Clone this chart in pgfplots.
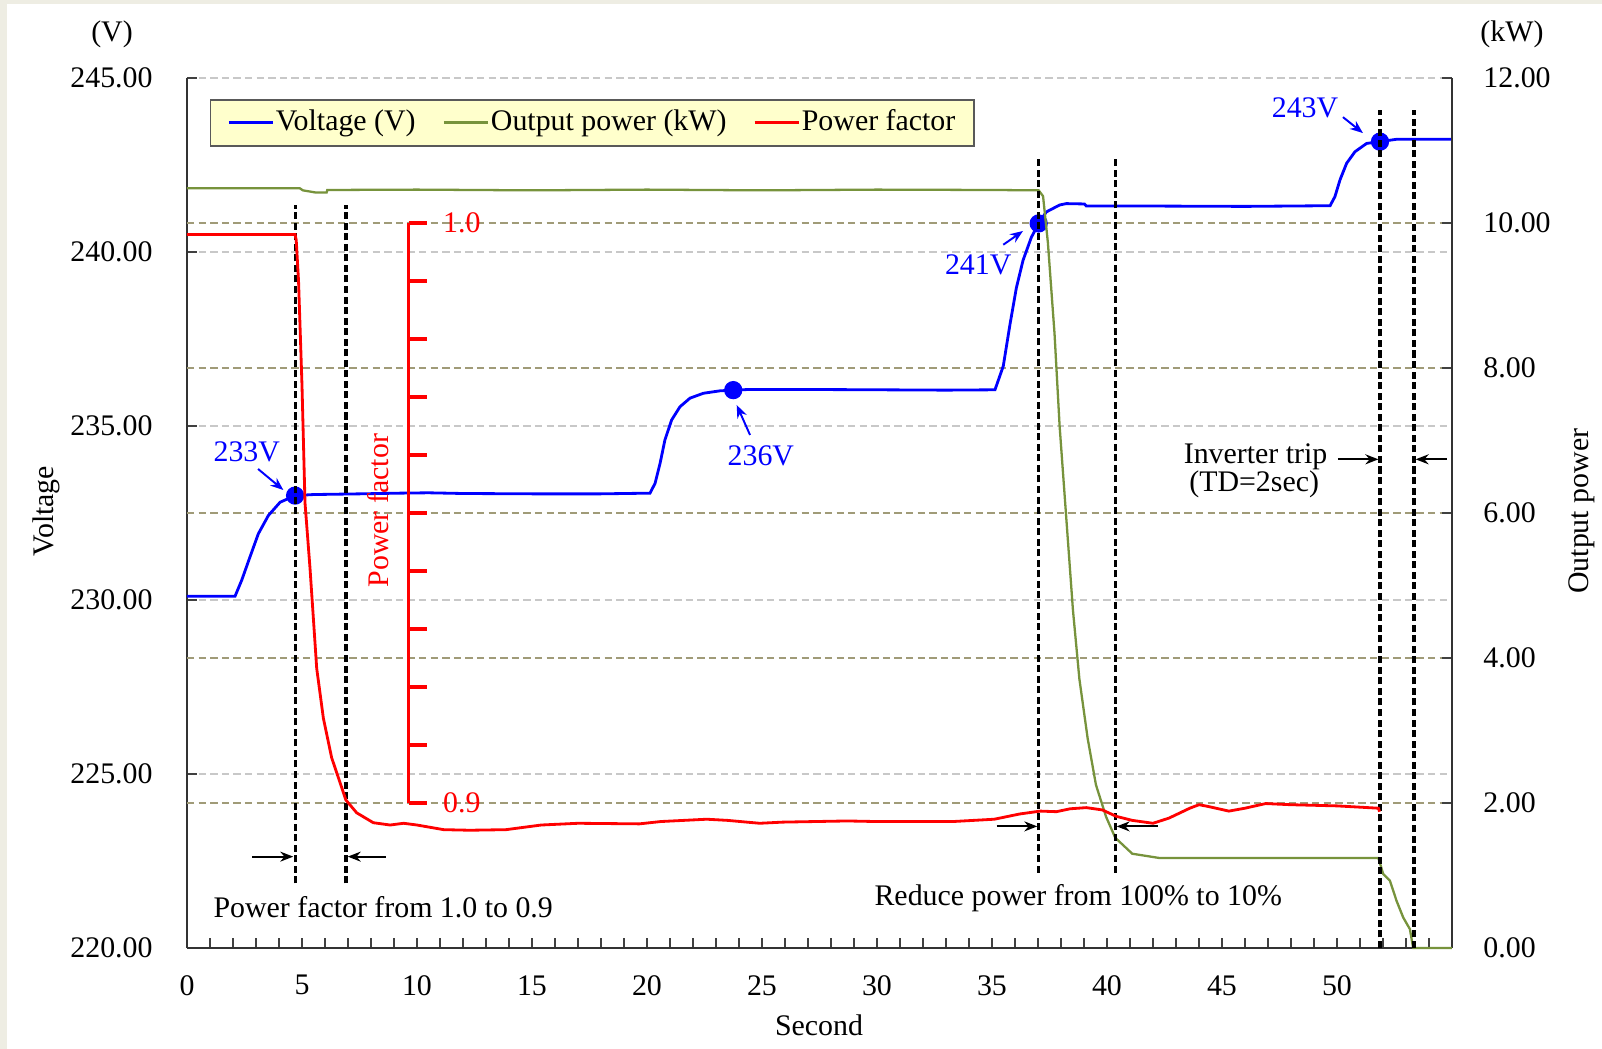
\documentclass[border=0pt]{standalone}
\usepackage{fontspec}
\setmainfont{Liberation Serif}
\usepackage{pgfplots}
\pgfplotsset{compat=1.18}
\usetikzlibrary{arrows.meta}

\definecolor{vblue}{RGB}{0,0,255}
\definecolor{pgreen}{RGB}{119,147,60}
\definecolor{pfred}{RGB}{255,0,0}
\definecolor{gridgray}{RGB}{200,200,200}
\definecolor{gridkhaki}{RGB}{160,155,120}
\definecolor{legfill}{RGB}{255,255,204}
\definecolor{slide}{RGB}{238,237,227}

\newcommand\ff{\fontsize{8.5}{10}\selectfont}

\tikzset{
  vline/.style={black, line width=0.9pt, dash pattern=on 2pt off 1pt},
  arr/.style={-{Stealth[length=0.13cm, width=0.1cm]}, line width=0.55pt},
}
\pgfplotsset{
  every axis/.append style={
    scale only axis, width=12.65cm, height=8.70cm,
    xmin=0, xmax=55, clip=false,
    tick align=inside, major tick length=0.1cm, minor tick length=0.1cm,
    tick label style={font=\ff},
    /pgf/number format/assume math mode=true,
    axis line style={black!80, line width=0.5pt},
    every tick/.style={black!75, line width=0.5pt},
  },
  dec2/.style={/pgf/number format/fixed, /pgf/number format/fixed zerofill,
    /pgf/number format/precision=2},
}

\begin{document}
\begin{tikzpicture}
\useasboundingbox (-1.87,-1.01) rectangle (14.15,9.48);
\fill[slide] (-1.87,-1.01) rectangle (14.15,9.48);
\fill[white] (-1.80,-1.01) rectangle (14.15,9.44);

% voltage, left axis
\begin{axis}[
  ymin=220, ymax=245,
  axis x line*=bottom, axis y line*=left,
  xtick={0,5,...,50}, minor xtick={1,...,54},
  ytick={220,225,...,245},
  yticklabel style={dec2, xshift=-0.22cm},
  xticklabel style={yshift=-0.15cm},
  ymajorgrids,
  major grid style={gridgray, dash pattern=on 2.1pt off 1.2pt, line width=0.55pt},
  extra y ticks={224.1667,228.3333,232.5,236.6667,240.8333},
  extra y tick labels={},
  extra y tick style={major tick length=0pt,
    major grid style={gridkhaki, dash pattern=on 2.1pt off 1.2pt, line width=0.7pt}},
  xlabel={Second}, ylabel={Voltage},
  xlabel style={at={(axis description cs:0.4996,-0.0885)}, anchor=center, font=\ff},
  ylabel style={at={(axis description cs:-0.1115,0.502)}, anchor=center, font=\ff},
]
\addplot[vblue, line width=0.8pt] coordinates {
(0,230.11) (2.09,230.11) (2.38,230.57) (2.74,231.24) (3.10,231.90) (3.54,232.43)
(4.05,232.81) (4.70,233.00) (5.50,233.03) (7.52,233.05) (9.26,233.07) (10.5,233.08)
(12,233.06) (15,233.05) (18,233.05) (20.13,233.07) (20.35,233.35) (20.57,233.93)
(20.78,234.60) (21.07,235.17) (21.43,235.55) (21.87,235.80) (22.45,235.94)
(23.17,236.01) (23.75,236.03) (24.48,236.05) (26.65,236.05) (30,236.04) (33,236.03)
(35.13,236.04) (35.49,236.72) (35.78,237.91) (36.06,238.97) (36.35,239.76)
(36.71,240.42) (37.03,240.82) (37.36,241.15) (37.94,241.35) (38.23,241.39)
(39.02,241.38) (39.10,241.32) (42,241.32) (46,241.31) (49.70,241.33) (49.91,241.59)
(50.13,242.07) (50.42,242.55) (50.78,242.88) (51.29,243.12) (51.87,243.17)
(52.60,243.24) (55,243.24)};
\addplot[only marks, mark=*, mark size=2.4pt, vblue] coordinates {
(4.70,233.00) (23.75,236.03) (37.03,240.82) (51.87,243.17)};
\node[font=\ff] at (axis description cs:-0.0593,1.0506) {(V)};
\end{axis}

% output power, right axis
\begin{axis}[
  ymin=0, ymax=12,
  axis x line=none, axis y line*=right,
  ytick={0,2,...,12},
  yticklabel style={dec2, xshift=0.19cm},
  ylabel={Output power},
  ylabel style={at={(axis description cs:1.1028,0.502)}, anchor=center, font=\ff},
]
\addplot[pgreen, line width=0.65pt] coordinates {
(0,10.48) (4.9,10.48) (5.04,10.45) (5.6,10.42) (6.07,10.42) (6.1,10.455) (10,10.46)
(15,10.45) (20,10.46) (25,10.45) (30,10.46) (35,10.455) (37.03,10.45) (37.22,10.37)
(37.43,9.73) (37.72,8.47) (37.94,7.20) (38.23,5.93) (38.52,4.66) (38.80,3.71)
(39.16,2.89) (39.52,2.25) (39.96,1.81) (40.36,1.52) (41.10,1.30) (42.30,1.24)
(45,1.24) (51.80,1.24) (52.01,1.02) (52.30,0.93) (52.59,0.65) (52.88,0.42)
(53.17,0.26) (53.30,0.02) (53.32,0) (55,0)};
\node[font=\ff] at (axis description cs:1.0474,1.0506) {(kW)};

% event markers
\draw[vline] (axis cs:4.70,0.89) -- (axis cs:4.70,10.25);
\draw[vline] (axis cs:6.91,0.89) -- (axis cs:6.91,10.25);
\draw[vline] (axis cs:37.03,1.04) -- (axis cs:37.03,10.9);
\draw[vline] (axis cs:40.36,1.04) -- (axis cs:40.36,10.9);
\draw[vline] (axis cs:51.87,0) -- (axis cs:51.87,11.56);
\draw[vline] (axis cs:53.35,0) -- (axis cs:53.35,11.56);
\draw[arr] (axis cs:2.84,1.26) -- (axis cs:4.62,1.26);
\draw[arr] (axis cs:8.65,1.26) -- (axis cs:6.99,1.26);
\draw[arr] (axis cs:35.2,1.677) -- (axis cs:36.97,1.677);
\draw[arr] (axis cs:42.2,1.677) -- (axis cs:40.42,1.677);
\draw[arr] (axis cs:50.04,6.74) -- (axis cs:51.80,6.74);
\draw[arr] (axis cs:54.78,6.74) -- (axis cs:53.42,6.74);
\node[font=\ff] at (axis cs:8.53,0.5655) {Power factor from 1.0 to 0.9};
\node[font=\ff] at (axis cs:38.75,0.69) {Reduce power from 100\% to 10\%};
\node[font=\ff] at (axis cs:46.46,6.78) {Inverter trip};
\node[font=\ff] at (axis cs:46.4,6.39) {(TD=2sec)};

% voltage call-outs
\node[font=\ff, vblue] at (axis cs:2.60,6.846) {233V};
\draw[arr, vblue] (axis cs:3.09,6.607) -- (axis cs:4.19,6.317);
\node[font=\ff, vblue] at (axis cs:24.95,6.786) {236V};
\draw[arr, vblue] (axis cs:24.48,7.076) -- (axis cs:23.9,7.49);
\node[font=\ff, vblue] at (axis cs:34.4,9.42) {241V};
\draw[arr, vblue] (axis cs:35.49,9.70) -- (axis cs:36.35,9.89);
\node[font=\ff, vblue] at (axis cs:48.61,11.586) {243V};
\draw[arr, vblue] (axis cs:50.26,11.46) -- (axis cs:51.13,11.24);
\end{axis}

% power factor, inner scale
\begin{axis}[
  ymin=0.875, ymax=1.025, hide axis,
  legend columns=3,
  legend image code/.code={\draw[#1] (0cm,0cm) -- (0.44cm,0cm);},
  legend style={at={(axis description cs:0.0178,0.976)}, anchor=north west,
    fill=legfill, draw=black!65, line width=0.5pt, font=\ff,
    inner xsep=0.17cm, inner ysep=0pt,
    nodes={inner xsep=0.5pt, inner ysep=2.8pt},
    /tikz/every even column/.append style={column sep=0.25cm}},
]
\addlegendimage{vblue, line width=0.8pt}
\addlegendentry{Voltage (V)}
\addlegendimage{pgreen, line width=0.8pt}
\addlegendentry{Output power (kW)}
\addlegendimage{pfred, line width=0.8pt}
\addlegendentry{Power factor}
\addplot[pfred, line width=0.8pt] coordinates {
(0,0.998) (4.70,0.998) (4.75,0.997) (4.85,0.990) (5.0,0.972) (5.13,0.9518)
(5.35,0.9404) (5.64,0.9232) (5.93,0.9146) (6.29,0.9078) (6.91,0.9005) (7.38,0.8983)
(8.1,0.8966) (8.83,0.8962) (9.42,0.8965) (10.0,0.8962) (11.16,0.8954) (12.3,0.8953)
(13.87,0.8954) (15.4,0.8962) (17.0,0.8965) (19.67,0.8964) (20.6,0.8968) (22.6,0.8972)
(23.5,0.8970) (24.9,0.8965) (25.9,0.8967) (28.7,0.8969) (30,0.8968) (33.3,0.8968)
(35.1,0.8972) (36.2,0.8981) (37.1,0.8986) (37.8,0.8985) (38.4,0.8990) (39.1,0.8992)
(39.8,0.8988) (40.4,0.8977) (41.1,0.8970) (42.0,0.8965) (42.7,0.8974) (43.6,0.8991)
(44.0,0.8997) (44.4,0.8994) (45.3,0.8986) (46.0,0.8991) (46.9,0.8999) (48,0.8997)
(50,0.8995) (51.8,0.8991) (51.85,0.8985)};
\draw[pfred, line width=1pt] (axis cs:9.64,0.9) -- (axis cs:9.64,1.0);
\pgfplotsinvokeforeach{0.90,0.91,0.92,0.93,0.94,0.95,0.96,0.97,0.98,0.99,1.00}{
  \draw[pfred, line width=1pt] (axis cs:9.64,#1) -- ++(0.184cm,0cm);
}
\node[font=\ff, pfred, anchor=west] at (axis cs:9.64,1.0) [xshift=0.22cm] {1.0};
\node[font=\ff, pfred, anchor=west] at (axis cs:9.64,0.9) [xshift=0.22cm] {0.9};
\node[font=\ff, pfred, rotate=90] at (axis cs:8.3,0.9504) {Power factor};
\end{axis}
\end{tikzpicture}
\end{document}
